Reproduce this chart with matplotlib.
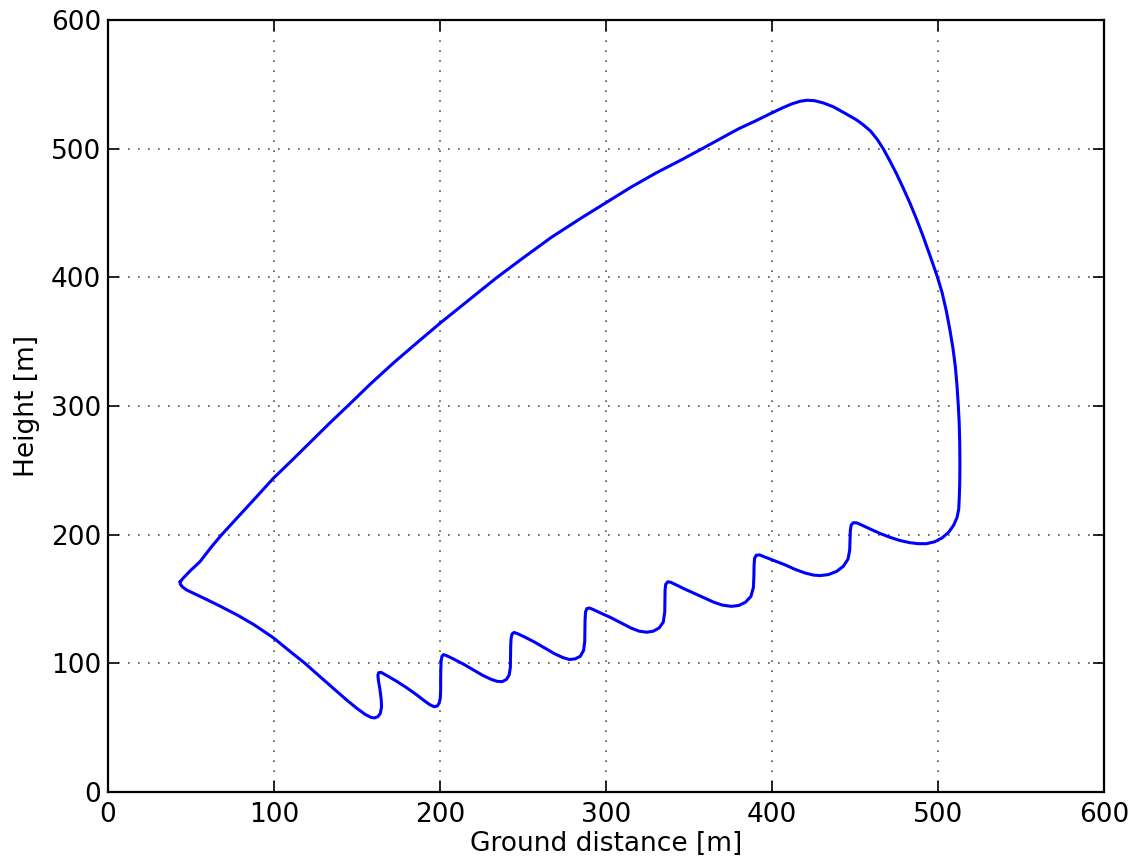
import matplotlib
matplotlib.use("Agg")
import matplotlib.pyplot as plt

# trajectory, (ground distance [m], height [m])
# from the left tip down to the first tooth
lower_leg = [
    (43.4, 163.5), (43.6, 161.5), (44.8, 159.5), (47.4, 157), (52, 154.2),
    (58, 150.5), (67.5, 144.5), (78, 137.5), (88, 130), (99.5, 120),
    (109, 110), (118.7, 100), (127, 90.5), (135, 81.5), (143.8, 71.5),
    (150, 65), (155, 60.3), (158.5, 58), (160.5, 57.6), (162.5, 58.5),
    (164, 61), (164.8, 66), (164.6, 72), (163.8, 80), (163, 86),
    (162.6, 90.5), (163, 92.7),
]

# the saw-tooth section, left to right
sawtooth = [
    (164.5, 93), (168, 90.5), (174, 86), (180, 81), (186, 75.5), (190.5, 71),
    (194, 67.8), (196.5, 66.3), (198.3, 66.8), (199.5, 69), (200.2, 73),
    (200.4, 79), (200.4, 88), (200.5, 96), (200.7, 102), (201.2, 105.5),
    (202.2, 106.8),
    (204, 106), (208, 103.5), (214, 99.5), (220, 95), (226, 90.5), (231, 87.5),
    (234.5, 86), (237.5, 85.8), (240, 87.5), (241.7, 91), (242.4, 97),
    (242.5, 105), (242.6, 113), (242.8, 119), (243.4, 122.8), (244.6, 124),
    (246.5, 123.2), (251, 120.5), (257, 116.5), (263, 112), (269, 107.5),
    (274, 104.5), (278, 103), (281.5, 103.5), (284.5, 105.5), (286.5, 110),
    (287.2, 117), (287.3, 126), (287.4, 134), (287.7, 140), (288.5, 142.6),
    (290, 143),
    (292, 142), (297, 139), (303, 135.5), (309, 131.5), (315, 127.5), (320, 125),
    (324.5, 124.2), (328.5, 125), (332, 127.5), (334.5, 132), (335.4, 140),
    (335.5, 150), (335.6, 157), (336, 161.5), (337.3, 163.4), (339, 163),
    (341.5, 161.5), (347, 158), (353, 154.5), (359, 151), (365, 147.5),
    (370, 145.3), (375.5, 144.3), (380, 145), (384, 147.5), (387.3, 152),
    (388.8, 159), (389.1, 168), (389.2, 176), (389.5, 181.5), (390.5, 184),
    (392.5, 184.3),
    (395, 183), (401, 180), (408, 176.5), (414, 173), (420, 170.2), (425, 168.6),
    (429, 168.2), (434, 169), (439, 171.5), (443, 175.5), (445.8, 181),
    (446.8, 188), (447, 196), (447.2, 203), (447.7, 207.5), (449, 209.3),
    (451, 209.2),
    (453.5, 207.8), (459, 204.5), (465, 201), (471, 198), (477, 195.5),
    (483, 193.8), (488, 193), (493, 193), (498, 194.5), (502.5, 197.5),
    (506.5, 202), (509.5, 207.5), (511.5, 213.5), (512.5, 220), (512.8, 228),
]

# right-hand side, climbing to the apex
right_side = [
    (513.1, 240), (513.2, 255), (513.1, 271), (512.8, 286), (512.2, 301),
    (511.5, 315), (510.5, 330), (509, 345), (507.2, 359), (505, 374),
    (502.5, 388), (499.6, 400.5), (495.3, 416.5), (491, 432), (487, 445.5),
    (483, 458), (479, 469.5), (475, 480.5), (471, 490.5), (467, 500),
    (463.5, 507), (459.5, 513.5), (455, 518.5), (451, 522.3), (444, 527.5),
    (437, 532.5), (431, 535.5), (425.5, 537.3), (421, 537.6),
]

# long upper arc back down to the tip
upper_arc = [
    (416.9, 536.8), (412, 534.8), (406, 531.5), (399.8, 527.7), (390, 521.5),
    (380, 515.5), (370, 508.5), (358, 500), (345, 491), (330, 481),
    (315, 470), (300, 458), (285, 446), (267, 431), (250, 415),
    (234, 399.6), (218, 383), (200, 364.3), (186, 349), (172, 333.5),
    (158, 317), (144.8, 300.5), (133, 286), (122, 272), (111, 258),
    (99.6, 243.8), (88.6, 228.2), (77.5, 212.6), (68.5, 200), (62, 190),
    (55.4, 179), (50, 172.5), (45.5, 166.5), (44.2, 164.5), (43.4, 163.5),
]

xticks = [0, 100, 200, 300, 400, 500, 600]
yticks = [0, 100, 200, 300, 400, 500, 600]

path = lower_leg + sawtooth + right_side + upper_arc
ground = [p[0] for p in path]
height = [p[1] for p in path]

fig = plt.figure(figsize=(11.33, 8.57), dpi=100)
ax = fig.add_axes([0.0953, 0.0758, 0.8791, 0.9009])

ax.plot(ground, height, color="#0000ff", linewidth=2.2,
        solid_joinstyle="round", solid_capstyle="round")

ax.set_xlim(0, 600)
ax.set_ylim(0, 600)
ax.set_xticks(xticks)
ax.set_yticks(yticks)
ax.grid(True, color="#555555", linestyle=(0, (1, 5)), linewidth=1.2)

for side in ax.spines.values():
    side.set_linewidth(1.6)

ax.tick_params(axis="both", direction="in", length=8, width=1.2, labelsize=19,
               top=True, right=True)
ax.tick_params(axis="x", pad=7)
ax.tick_params(axis="y", pad=5)

ax.set_xlabel("Ground distance [m]", fontsize=19, labelpad=2)
ax.set_ylabel("Height [m]", fontsize=19, labelpad=8)

fig.savefig("out.png", dpi=100)
